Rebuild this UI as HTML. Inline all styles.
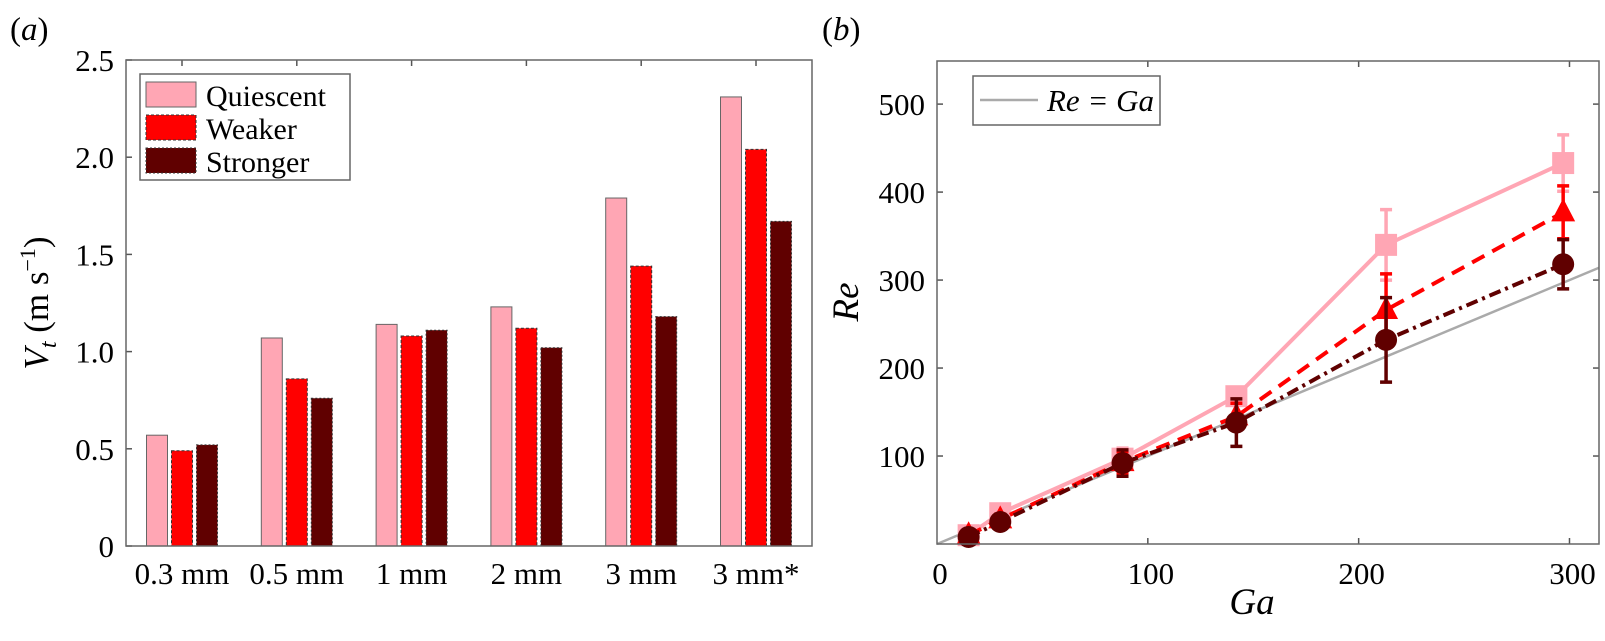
<!DOCTYPE html>
<html><head><meta charset="utf-8"><style>
body{margin:0;background:#fff}
svg text{font-family:"Liberation Serif",serif;fill:#000}
</style></head><body>
<svg id="s" width="1605" height="636" xmlns="http://www.w3.org/2000/svg">
<text x="10" y="40" font-size="33">(<tspan font-style="italic">a</tspan>)</text>
<text x="822" y="40" font-size="33">(<tspan font-style="italic">b</tspan>)</text>
<g id="ga"></g>
<g id="gb"></g>
</svg>
<script>
const categories=["0.3 mm","0.5 mm","1 mm","2 mm","3 mm","3 mm*"];
const quiescent=[0.57,1.07,1.14,1.23,1.79,2.31];
const weaker=[0.49,0.86,1.08,1.12,1.44,2.04];
const stronger=[0.52,0.76,1.11,1.02,1.18,1.67];
const yTicksA=["0","0.5","1.0","1.5","2.0","2.5"];

const gaVals=[15,30,88,142,213,297];
const reQ=[10,35,97,168,340,433];
const reW=[10,28,93,145,266,377];
const reS=[8,25,92,138,232,318];
const errQ=[5,6,12,10,40,32];
const errW=[5,6,12,15,41,30];
const errS=[5,6,15,27,48,28];
const xTicksB=[0,100,200,300];
const yTicksB=[100,200,300,400,500];

const NS="http://www.w3.org/2000/svg";
const FS=31;
function mk(p,t,a){const e=document.createElementNS(NS,t);for(const k in a)e.setAttribute(k,a[k]);p.appendChild(e);return e;}
// Panel A
const ga=document.getElementById('ga');
const AL=126,AR=812,AT=60,AB=546,amax=2.5;
const ya=v=>AB-(v/amax)*(AB-AT);
const xa=i=>182+i*114.8;
yTicksA.forEach(t=>{const y=ya(parseFloat(t));
 const l=mk(ga,'line',{x1:AL,x2:AL+6,y1:y,y2:y,stroke:'#555','stroke-width':1.5});
 
 const tx=mk(ga,'text',{x:AL-12,y:y+11,'font-size':FS,'text-anchor':'end'});tx.textContent=t;
 
});
const series=[[quiescent,'#ffa6b4','#666',''],[weaker,'#ff0000','#333','3,2'],[stronger,'#600000','#333','2,2']];
categories.forEach((c,i)=>{
 const cx=xa(i);
 const t1=mk(ga,'line',{x1:cx,x2:cx,y1:AB,y2:AB-6,stroke:'#555','stroke-width':1.5});
 
 const t2=mk(ga,'line',{x1:cx,x2:cx,y1:AT,y2:AT+6,stroke:'#555','stroke-width':1.5});
 
 const tx=mk(ga,'text',{x:cx,y:AB+38,'font-size':FS,'text-anchor':'middle'});tx.textContent=c;
 
 series.forEach((s,j)=>{
  const x=cx-10.5+(j-1)*25,y=ya(s[0][i]);
  const r=mk(ga,'rect',{x:x,y:y,width:21,height:AB-y,fill:s[1],stroke:s[2],'stroke-width':1,'stroke-dasharray':s[3]});
  
  
 });
});
const fa=mk(ga,'rect',{x:AL,y:AT,width:AR-AL,height:AB-AT,fill:'none',stroke:'#666','stroke-width':1.5});

const yl=mk(ga,'text',{transform:'translate(48,303) rotate(-90)','font-size':35,'text-anchor':'middle'});
yl.innerHTML='<tspan font-style="italic">V</tspan><tspan font-style="italic" font-size="24" dy="8">t</tspan><tspan dy="-8"> (m s</tspan><tspan font-size="22" dy="-13">−1</tspan><tspan dy="13">)</tspan>';

const lg=mk(ga,'g',{});
mk(lg,'rect',{x:140,y:74,width:210,height:106,fill:'#fff',stroke:'#666','stroke-width':1.5});
['Quiescent','Weaker','Stronger'].forEach((n,j)=>{
 const y=82+j*33;
 const r=mk(lg,'rect',{x:146,y:y,width:50,height:25,fill:series[j][1],stroke:series[j][2],'stroke-width':1,'stroke-dasharray':series[j][3]});
 
 const t=mk(lg,'text',{x:206,y:y+24,'font-size':30});t.textContent=n;
 
});
// Panel B
const gb=document.getElementById('gb');
const BL=937,BR=1599,BT=61,BB=544,xmax=314,ymax=549;
const xb=v=>BL+v/xmax*(BR-BL), yb=v=>BB-v/ymax*(BB-BT);
xTicksB.forEach(v=>{const x=xb(v);
 if(v>0){const l=mk(gb,'line',{x1:x,x2:x,y1:BB,y2:BB-6,stroke:'#555','stroke-width':1.5});
 
 const l2=mk(gb,'line',{x1:x,x2:x,y1:BT,y2:BT+6,stroke:'#555','stroke-width':1.5});
 }
 const t=mk(gb,'text',{x:x+3,y:BB+40,'font-size':FS,'text-anchor':'middle'});t.textContent=v;
 
});
yTicksB.forEach(v=>{const y=yb(v);
 const l=mk(gb,'line',{x1:BL,x2:BL+6,y1:y,y2:y,stroke:'#555','stroke-width':1.5});
 
 const l2=mk(gb,'line',{x1:BR,x2:BR-6,y1:y,y2:y,stroke:'#555','stroke-width':1.5});
 
 const t=mk(gb,'text',{x:BL-12,y:y+11,'font-size':FS,'text-anchor':'end'});t.textContent=v;
 
});
const ref=mk(gb,'line',{x1:xb(0),y1:yb(0),x2:xb(xmax),y2:yb(xmax),stroke:'#aaa','stroke-width':2.5});

const sb=[[reQ,errQ,'#ffa6b4','','sq'],[reW,errW,'#ff0000','14,9','tri'],[reS,errS,'#600000','12,5,3,5','circ']];
sb.forEach(([re,er,col,da,m],j)=>{
 const nm=['quiescent','weaker','stronger'][j];
 const p=mk(gb,'polyline',{points:gaVals.map((g,i)=>xb(g)+','+yb(re[i])).join(' '),fill:'none',stroke:col,'stroke-width':4,'stroke-dasharray':da});
 
 gaVals.forEach((g,i)=>{
  const x=xb(g),y=yb(re[i]),y1=yb(re[i]+er[i]),y2=yb(re[i]-er[i]);
  const e=mk(gb,'path',{d:`M${x},${y1}V${y2}M${x-6},${y1}H${x+6}M${x-6},${y2}H${x+6}`,stroke:col,'stroke-width':3.5,fill:'none'});
  
  let mkr;
  if(m==='sq')mkr=mk(gb,'rect',{x:x-11,y:y-11,width:22,height:22,fill:col});
  else if(m==='tri')mkr=mk(gb,'polygon',{points:`${x},${y-14} ${x+12},${y+9} ${x-12},${y+9}`,fill:col});
  else mkr=mk(gb,'circle',{cx:x,cy:y,r:11,fill:col});
  
 });
});
const fb=mk(gb,'rect',{x:BL,y:BT,width:BR-BL,height:BB-BT,fill:'none',stroke:'#666','stroke-width':1.5});

const lb=mk(gb,'g',{});
mk(lb,'rect',{x:973,y:76,width:187,height:49,fill:'#fff',stroke:'#666','stroke-width':1.5});
mk(lb,'line',{x1:980,x2:1038,y1:100,y2:100,stroke:'#aaa','stroke-width':2.5});
const lt=mk(lb,'text',{x:1047,y:111,'font-size':31,'font-style':'italic'});lt.textContent='Re = Ga';

const xl=mk(gb,'text',{x:1252,y:614,'font-size':37,'font-style':'italic','text-anchor':'middle'});xl.textContent='Ga';

const ylb=mk(gb,'text',{transform:'translate(858,302) rotate(-90)','font-size':37,'font-style':'italic','text-anchor':'middle'});ylb.textContent='Re';

</script>
</body></html>
